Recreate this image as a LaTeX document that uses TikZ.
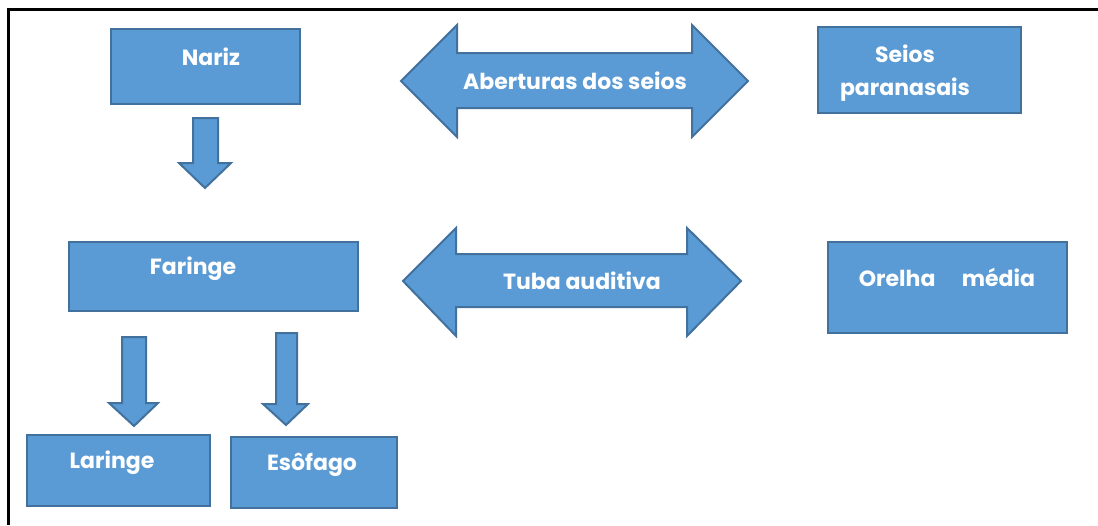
\documentclass[tikz,border=0pt]{standalone}
\usepackage{fontspec}
\setmainfont{Poppins}
\definecolor{boxfill}{HTML}{5B9BD5}
\definecolor{boxline}{HTML}{41719C}
\begin{document}
\begin{tikzpicture}[x=1pt,y=-1pt,
  shapestyle/.style={fill=boxfill,draw=boxline,line width=2pt,line join=miter},
  lbl/.style={text=white,font=\bfseries\fontsize{22}{33}\selectfont,inner sep=0pt,align=center},
  framestyle/.style={line width=3pt,draw=black}]
\useasboundingbox (0,0) rectangle (1098,525);
% frame
\draw[framestyle] (1098,9) -- (8,9) -- (8,525);
% boxes
\draw[shapestyle] (111,29) rectangle (300,104);
\node[lbl] (nariz) at (211,57) {Nariz};
\draw[shapestyle] (818,27) rectangle (1021,113);
\node[lbl] (seios) at (905,73) {Seios\\paranasais};
\draw[shapestyle] (69,242) rectangle (358,311);
\node[lbl] (faringe) at (193,269) {Faringe};
\draw[shapestyle] (828,242) rectangle (1067,333);
\node[lbl] (orelha) at (947,277) {Orelha\hspace*{1.2em}média};
\draw[shapestyle] (27,435) rectangle (210,506);
\node[lbl] (laringe) at (112,463) {Laringe};
\draw[shapestyle] (231,437) rectangle (397,508);
\node[lbl] (esofago) at (312,465) {Esôfago};
% down arrows
\draw[shapestyle] (193,118) -- (218,118) -- (218,163) -- (231,163) -- (205,188) -- (179,163) -- (193,163) -- cycle;
\draw[shapestyle] (122,337) -- (146,337) -- (146,403) -- (158,403) -- (134,426) -- (109,403) -- (122,403) -- cycle;
\draw[shapestyle] (276,333) -- (297,333) -- (297,404) -- (308,404) -- (286,425) -- (263,404) -- (276,404) -- cycle;
% double arrows
\draw[shapestyle] (401,81) -- (457,25) -- (457,53) -- (692,53) -- (692,25) -- (748,81) -- (692,137) -- (692,108) -- (457,108) -- (457,137) -- cycle;
\node[lbl] (aberturas) at (575,81) {Aberturas dos seios};
\draw[shapestyle] (403,281) -- (456,228) -- (456,254) -- (687,254) -- (687,228) -- (741,281) -- (687,336) -- (687,307) -- (456,307) -- (456,336) -- cycle;
\node[lbl] (tuba) at (582,281) {Tuba auditiva};
\end{tikzpicture}
\end{document}
